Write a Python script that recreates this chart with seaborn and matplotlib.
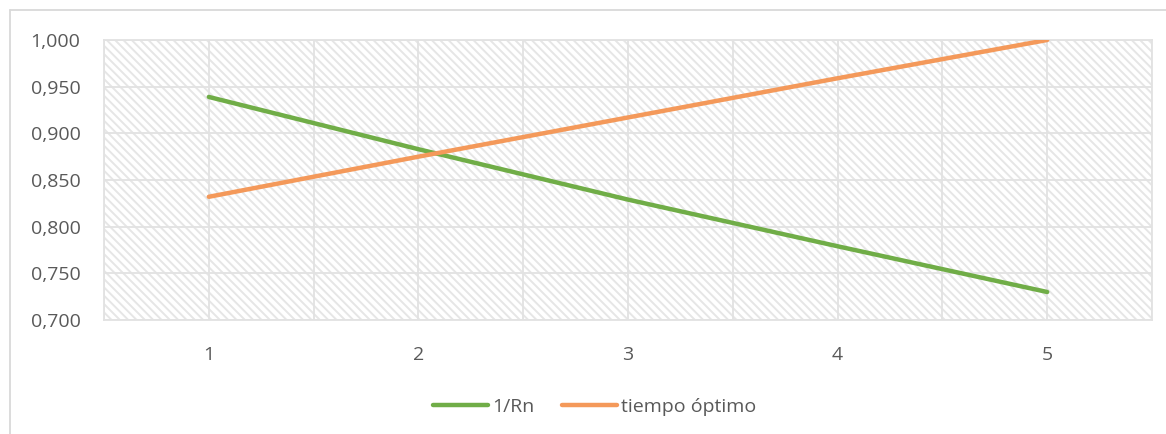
import numpy as np
import pandas as pd
import matplotlib
matplotlib.use("Agg")
import matplotlib.pyplot as plt
from matplotlib.patches import Rectangle
from matplotlib.lines import Line2D
from matplotlib.ticker import FuncFormatter, MultipleLocator
import seaborn as sns

# ── data ──────────────────────────────────────────────────────────────────────
x_vals = [1, 2, 3, 4, 5]
inv_rn = [0.939, 0.883, 0.829, 0.779, 0.730]
tiempo_optimo = [0.832, 0.875, 0.917, 0.959, 1.000]
series_names = ["1/Rn", "tiempo óptimo"]
y_ticks = [0.70, 0.75, 0.80, 0.85, 0.90, 0.95, 1.00]

GREEN, ORANGE = "#70ad47", "#f4995a"
GRID, TEXT = "#e2e2e2", "#595959"

df = pd.DataFrame({
    "x": x_vals * 2,
    "valor": inv_rn + tiempo_optimo,
    "serie": [series_names[0]] * len(x_vals) + [series_names[1]] * len(x_vals),
})

sns.set_theme(style="white")
plt.rcParams["font.family"] = ["Open Sans", "DejaVu Sans"]
plt.rcParams["hatch.linewidth"] = 1.4
plt.rcParams["hatch.color"] = "#e6e6e6"

W, H = 1166, 434
fig = plt.figure(figsize=(W / 100, H / 100), dpi=100)
ax = fig.add_axes([104 / W, 1 - 320 / H, (1152 - 104) / W, (320 - 40) / H])

# hatched plot area
ax.add_patch(Rectangle((0, 0), 1, 1, transform=ax.transAxes, facecolor="white",
                       edgecolor="#e6e6e6", hatch="\\\\\\\\", lw=0, zorder=0))

sns.lineplot(data=df, x="x", y="valor", hue="serie", palette=[GREEN, ORANGE],
             lw=3.2, ax=ax, legend=True, zorder=3)
for ln in ax.lines:
    ln.set_solid_capstyle("round")

ax.set_xlim(0.5, 5.5)
ax.set_ylim(0.70, 1.00)
ax.set_xticks(x_vals)
ax.xaxis.set_minor_locator(MultipleLocator(0.5))
ax.set_yticks(y_ticks)
ax.yaxis.set_major_formatter(FuncFormatter(lambda v, _: f"{v:.3f}".replace(".", ",")))
ax.grid(True, which="both", axis="x", color=GRID, lw=1.3, zorder=1)
ax.grid(True, which="major", axis="y", color=GRID, lw=1.3, zorder=1)
ax.set_axisbelow(True)
ax.tick_params(which="both", length=0, labelsize=14, colors=TEXT)
ax.tick_params(axis="x", pad=19)
ax.tick_params(axis="y", pad=17)
ax.set_xlabel("")
ax.set_ylabel("")
for s in ax.spines.values():
    s.set_color(GRID)
    s.set_linewidth(1.3)

leg = ax.legend(loc="upper center", bbox_to_anchor=(0.468, -0.215), ncol=2,
                frameon=False, fontsize=14, handlelength=2.85, handletextpad=0.2,
                columnspacing=1.4)
for t in leg.get_texts():
    t.set_color(TEXT)
for h in leg.get_lines():
    h.set_linewidth(3.2)
    h.set_solid_capstyle("round")

# outer chart border (left/top edges visible)
fig.add_artist(Line2D([10 / W, 10 / W], [0, 1 - 10 / H], transform=fig.transFigure,
                      color="#d9d9d9", lw=1.3))
fig.add_artist(Line2D([10 / W, 1], [1 - 10 / H, 1 - 10 / H], transform=fig.transFigure,
                      color="#d9d9d9", lw=1.3))

fig.savefig("out.png", dpi=100)
